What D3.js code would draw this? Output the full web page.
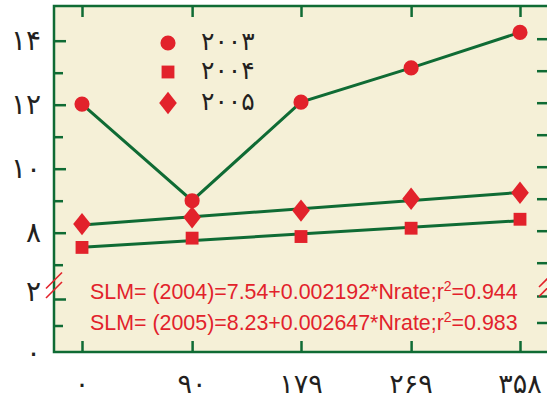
<!DOCTYPE html>
<html>
<head>
<meta charset="utf-8">
<script src="https://cdn.jsdelivr.net/npm/d3@7"></script>
<style>
  body { margin: 0; background: #fff; }
  svg { display: block; }
</style>
</head>
<body>
<script>
// nitrogen rate (x) and the three years
var nrate = [0, 90, 179, 269, 358];
var xLabels = ["۰", "۹۰", "۱۷۹", "۲۶۹", "۳۵۸"];
var y2003 = [12.02, 9.0, 12.08, 13.15, 14.26];
var y2004 = [7.54, 7.83, 7.88, 8.14, 8.42];
var y2005 = [8.27, 8.48, 8.69, 9.06, 9.25];
var years = ["۲۰۰۳", "۲۰۰۴", "۲۰۰۵"];
var yTicksTop = [8, 10, 12, 14];
var yLabelsTop = ["۸", "۱۰", "۱۲", "۱۴"];
var yTicksLow = [0, 2];
var yLabelsLow = ["۰", "۲"];
var eqs = [
  ["SLM= (2004)=7.54+0.002192*Nrate;r", "2", "=0.944"],
  ["SLM= (2005)=8.23+0.002647*Nrate;r", "2", "=0.983"]
];

var width = 547, height = 401;
var green = "#0f6b34", red = "#e2222b", ink = "#231f20";
var mLeft = 54, mTop = 6, mRight = 548, mBottom = 352;

var svg = d3.select("body").append("svg")
    .attr("width", width)
    .attr("height", height);

var x = d3.scaleLinear().domain([0, 358]).range([82, 520]);
var yTop = d3.scaleLinear().domain([7, 14]).range([264.7, 40.7]);
var yLow = d3.scaleLinear().domain([0, 2]).range([352, 299]);

// plot background
svg.append("rect")
    .attr("x", mLeft).attr("y", mTop)
    .attr("width", mRight - mLeft).attr("height", mBottom - mTop)
    .attr("fill", "#f5f0d7");

// straight least squares line through a series
function fit(ys) {
  var mx = d3.mean(nrate), my = d3.mean(ys);
  var sxy = d3.sum(nrate, function(v, i){ return (v - mx) * (ys[i] - my); });
  var sxx = d3.sum(nrate, function(v){ return (v - mx) * (v - mx); });
  var b = sxy / sxx, a = my - b * mx;
  return [0, 358].map(function(v){ return [v, a + b * v]; });
}

var line = d3.line()
    .x(function(d){ return x(d[0]); })
    .y(function(d){ return yTop(d[1]); });

svg.append("path")
    .datum(nrate.map(function(v, i){ return [v, y2003[i]]; }))
    .attr("d", line)
    .attr("fill", "none").attr("stroke", green).attr("stroke-width", 3);

[y2004, y2005].forEach(function(s){
  svg.append("path")
      .datum(fit(s))
      .attr("d", line)
      .attr("fill", "none").attr("stroke", green).attr("stroke-width", 3);
});

// axes
function styleAxis(g) {
  g.select(".domain").remove();
  g.selectAll(".tick line").attr("stroke", green).attr("stroke-width", 2.5);
  g.selectAll(".tick text").remove();
}

svg.append("g").attr("transform", "translate(" + mLeft + ",0)")
    .call(d3.axisRight(yTop).tickValues(yTicksTop).tickSize(12)).call(styleAxis);
svg.append("g").attr("transform", "translate(" + mLeft + ",0)")
    .call(d3.axisRight(yTop).tickValues([7, 9, 11, 13]).tickSize(9)).call(styleAxis);
svg.append("g").attr("transform", "translate(" + mLeft + ",0)")
    .call(d3.axisRight(yLow).tickValues([2]).tickSize(12)).call(styleAxis);
svg.append("g").attr("transform", "translate(" + mLeft + ",0)")
    .call(d3.axisRight(yLow).tickValues([1]).tickSize(9)).call(styleAxis);

svg.append("g").attr("transform", "translate(" + (mRight - 1) + ",-2)")
    .call(d3.axisLeft(yTop).tickValues(d3.range(7, 15)).tickSize(10)).call(styleAxis);
svg.append("g").attr("transform", "translate(" + (mRight - 1) + ",-3)")
    .call(d3.axisLeft(yLow).tickValues([1, 2]).tickSize(10)).call(styleAxis);

svg.append("g").attr("transform", "translate(0," + mBottom + ")")
    .call(d3.axisTop(x).tickValues(nrate).tickSize(11)).call(styleAxis);
svg.append("g").attr("transform", "translate(0," + mTop + ")")
    .call(d3.axisBottom(x).tickValues(nrate).tickSize(11)).call(styleAxis);

// frame
svg.append("path")
    .attr("d", "M" + mRight + "," + mTop + "H" + mLeft + "V" + mBottom + "H" + mRight)
    .attr("fill", "none").attr("stroke", green).attr("stroke-width", 2.5);

// axis break marks
[[mLeft, 280.5], [mLeft, 290], [mRight - 1, 279], [mRight - 1, 288.5]].forEach(function(p){
  svg.append("line")
      .attr("x1", p[0] + 8).attr("y1", p[1] - 8)
      .attr("x2", p[0] - 8).attr("y2", p[1] + 8)
      .attr("stroke", red).attr("stroke-width", 1.6);
});

// tick labels
var digitFont = "'DejaVu Sans', sans-serif";
var fs = 28;
svg.selectAll(".ylab-top").data(yTicksTop).enter().append("text")
    .attr("x", 41).attr("y", function(d){ return yTop(d) + 9; })
    .attr("text-anchor", "end")
    .attr("font-family", digitFont).attr("font-size", fs).attr("fill", ink)
    .text(function(d, i){ return yLabelsTop[i]; });

svg.selectAll(".ylab-low").data(yTicksLow).enter().append("text")
    .attr("x", 41).attr("y", function(d){ return yLow(d) + (d === 0 ? 10 : 2); })
    .attr("text-anchor", "end")
    .attr("font-family", digitFont).attr("font-size", fs).attr("fill", ink)
    .text(function(d, i){ return yLabelsLow[i]; });

svg.selectAll(".xlab").data(nrate).enter().append("text")
    .attr("x", function(d){ return x(d); }).attr("y", 393)
    .attr("text-anchor", "middle")
    .attr("font-family", digitFont).attr("font-size", 27).attr("fill", ink)
    .text(function(d, i){ return xLabels[i]; });

// markers
var sym = [d3.symbolCircle, d3.symbolSquare, d3.symbolDiamond];
var sizes = [180, 165, 160];
[y2003, y2004, y2005].forEach(function(s, k){
  svg.selectAll(".m" + k).data(s).enter().append("path")
      .attr("transform", function(d, i){
        return "translate(" + x(nrate[i]) + "," + yTop(d) + ")" + (k === 2 ? " scale(1.3,0.95)" : "");
      })
      .attr("d", d3.symbol(sym[k], sizes[k]))
      .attr("fill", red);
});

// legend
years.forEach(function(t, k){
  var ly = [43, 72, 103][k];
  svg.append("path")
      .attr("transform", "translate(168," + ly + ")" + (k === 2 ? " scale(1.3,0.95)" : ""))
      .attr("d", d3.symbol(sym[k], sizes[k]))
      .attr("fill", red);
  svg.append("text")
      .attr("x", 201).attr("y", ly + 7)
      .attr("font-family", digitFont).attr("font-size", 25).attr("fill", ink)
      .text(t);
});

// regression equations
eqs.forEach(function(e, k){
  var t = svg.append("text")
      .attr("x", 90).attr("y", [299, 330][k])
      .attr("font-family", "'Liberation Sans', Arial, sans-serif")
      .attr("font-size", 21.4).attr("fill", red);
  t.append("tspan").text(e[0]);
  t.append("tspan").attr("dy", -8).attr("font-size", 14).text(e[1]);
  t.append("tspan").attr("dy", 8).text(e[2]);
});
</script>
</body>
</html>
